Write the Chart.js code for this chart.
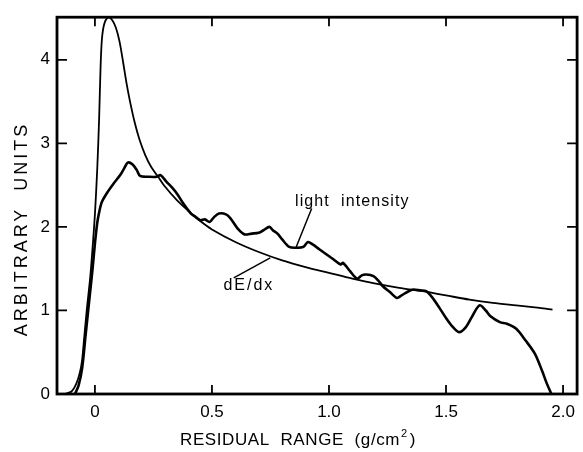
<!DOCTYPE html>
<html>
<head>
<meta charset="utf-8">
<script src="https://cdn.jsdelivr.net/npm/chart.js@4/dist/chart.umd.min.js"></script>
<style>
  html, body { margin: 0; padding: 0; background: #fff; }
</style>
</head>
<body>
<canvas id="grafico" width="583" height="452"></canvas>
<script>
// curva dE/dx (teorica)
const rangoDedx = [-0.13, -0.1, -0.08, -0.065, -0.055, -0.045, -0.035, -0.02, -0.01, 0, 0.01, 0.018, 0.024, 0.03, 0.04, 0.058, 0.075, 0.09, 0.105, 0.12, 0.135, 0.15, 0.17, 0.19, 0.215, 0.24, 0.27, 0.3, 0.35, 0.4, 0.45, 0.5, 0.6, 0.7, 0.8, 0.9, 1.0, 1.1, 1.2, 1.3, 1.4, 1.5, 1.6, 1.7, 1.8, 1.9, 1.955];
const valoresDedx = [0, 0.03, 0.12, 0.25, 0.4, 0.7, 1.0, 1.4, 1.75, 2.15, 2.7, 3.3, 3.9, 4.25, 4.43, 4.51, 4.47, 4.38, 4.22, 3.98, 3.72, 3.5, 3.25, 3.05, 2.86, 2.72, 2.6, 2.48, 2.32, 2.19, 2.07, 1.97, 1.82, 1.7, 1.6, 1.52, 1.45, 1.38, 1.32, 1.27, 1.23, 1.18, 1.13, 1.09, 1.06, 1.03, 1.01];

// intensidad de luz medida
const rangoLuz = [-0.085, -0.07, -0.055, -0.04, -0.025, -0.01, 0, 0.01, 0.02, 0.03, 0.05, 0.08, 0.108, 0.125, 0.14, 0.16, 0.179, 0.193, 0.23, 0.264, 0.28, 0.306, 0.33, 0.35, 0.38, 0.41, 0.43, 0.45, 0.47, 0.49, 0.51, 0.53, 0.56, 0.58, 0.61, 0.64, 0.67, 0.70, 0.72, 0.745, 0.76, 0.78, 0.80, 0.83, 0.86, 0.89, 0.91, 0.93, 0.96, 0.99, 1.02, 1.05, 1.06, 1.09, 1.12, 1.14, 1.16, 1.19, 1.21, 1.23, 1.26, 1.29, 1.31, 1.34, 1.36, 1.39, 1.415, 1.44, 1.47, 1.5, 1.53, 1.557, 1.585, 1.61, 1.643, 1.67, 1.69, 1.73, 1.76, 1.8, 1.84, 1.88, 1.91, 1.93, 1.95];
const valoresLuz = [0, 0.1, 0.3, 0.7, 1.1, 1.5, 1.8, 2.05, 2.2, 2.3, 2.4, 2.52, 2.62, 2.7, 2.77, 2.75, 2.68, 2.61, 2.6, 2.6, 2.62, 2.54, 2.47, 2.4, 2.27, 2.16, 2.12, 2.08, 2.09, 2.06, 2.12, 2.16, 2.15, 2.1, 1.98, 1.91, 1.92, 1.93, 1.96, 2.0, 1.96, 1.92, 1.85, 1.76, 1.75, 1.76, 1.82, 1.79, 1.73, 1.67, 1.61, 1.55, 1.57, 1.47, 1.38, 1.42, 1.43, 1.41, 1.36, 1.29, 1.22, 1.15, 1.18, 1.23, 1.25, 1.24, 1.23, 1.16, 1.04, 0.91, 0.80, 0.74, 0.80, 0.92, 1.06, 1.0, 0.93, 0.86, 0.84, 0.78, 0.64, 0.48, 0.28, 0.13, 0];

const ticksX = [0, 0.5, 1, 1.5, 2];
const etiquetasX = ['0', '0.5', '1.0', '1.5', '2.0'];
const ticksY = [0, 1, 2, 3, 4];

const fuente = "'Liberation Sans', Arial, sans-serif";

const aPuntos = (xs, ys) => xs.map((x, i) => ({ x, y: ys[i] }));

// marco, ticks hacia adentro, titulos y etiquetas
const decoracion = {
  id: 'decoracion',
  afterDraw(chart) {
    const { ctx, chartArea: a, scales: { x, y } } = chart;
    ctx.save();
    ctx.strokeStyle = '#000';
    ctx.fillStyle = '#000';

    ctx.lineWidth = 2.8;
    ctx.strokeRect(a.left, a.top, a.right - a.left, a.bottom - a.top);

    ctx.lineWidth = 1.8;
    ctx.beginPath();
    ticksX.forEach(v => {
      const px = x.getPixelForValue(v);
      ctx.moveTo(px, a.bottom); ctx.lineTo(px, a.bottom - 9);
      ctx.moveTo(px, a.top); ctx.lineTo(px, a.top + 9);
    });
    ticksY.forEach(v => {
      const py = y.getPixelForValue(v);
      ctx.moveTo(a.left, py); ctx.lineTo(a.left + 10, py);
      ctx.moveTo(a.right, py); ctx.lineTo(a.right - 10, py);
    });
    ctx.stroke();

    // titulo eje x
    ctx.font = '17px ' + fuente;
    ctx.letterSpacing = '0.6px';
    ctx.textBaseline = 'alphabetic';
    ctx.textAlign = 'left';
    let px = 180;
    const base = 445;
    const parte1 = 'RESIDUAL  RANGE  (g/cm';
    ctx.fillText(parte1, px, base);
    px += ctx.measureText(parte1).width;
    ctx.font = '11px ' + fuente;
    ctx.fillText('2', px + 1, base - 8);
    px += ctx.measureText('2').width + 3;
    ctx.font = '17px ' + fuente;
    ctx.fillText(')', px, base);

    // titulo eje y
    ctx.save();
    ctx.translate(27, 229);
    ctx.rotate(-Math.PI / 2);
    ctx.textAlign = 'center';
    ctx.font = '18px ' + fuente;
    ctx.letterSpacing = '3px';
    ctx.fillText('ARBITRARY  UNITS', 0, 0);
    ctx.restore();

    // etiquetas de las curvas
    ctx.font = '16px ' + fuente;
    ctx.letterSpacing = '1.1px';
    ctx.fillText('light  intensity', x.getPixelForValue(0.855), y.getPixelForValue(2.25));
    ctx.letterSpacing = '2px';
    ctx.fillText('dE/dx', x.getPixelForValue(0.549), y.getPixelForValue(1.24));

    ctx.lineWidth = 1.5;
    ctx.beginPath();
    ctx.moveTo(x.getPixelForValue(0.926), y.getPixelForValue(2.22));
    ctx.lineTo(x.getPixelForValue(0.86), y.getPixelForValue(1.76));
    ctx.moveTo(x.getPixelForValue(0.593), y.getPixelForValue(1.39));
    ctx.lineTo(x.getPixelForValue(0.749), y.getPixelForValue(1.63));
    ctx.stroke();
    ctx.restore();
  }
};

new Chart(document.getElementById('grafico'), {
  type: 'scatter',
  data: {
    datasets: [
      {
        label: 'dE/dx',
        data: aPuntos(rangoDedx, valoresDedx),
        showLine: true,
        borderColor: '#000',
        borderWidth: 1.8,
        pointRadius: 0,
        tension: 0.3,
        fill: false
      },
      {
        label: 'light intensity',
        data: aPuntos(rangoLuz, valoresLuz),
        showLine: true,
        borderColor: '#000',
        borderWidth: 2.6,
        pointRadius: 0,
        tension: 0.3,
        fill: false
      }
    ]
  },
  options: {
    responsive: false,
    animation: false,
    layout: { padding: { top: 14, right: 5, left: 0, bottom: 0 } },
    plugins: {
      legend: { display: false },
      tooltip: { enabled: false }
    },
    scales: {
      x: {
        type: 'linear',
        min: -0.162,
        max: 2.06,
        grid: { display: false, drawTicks: false },
        border: { display: false },
        afterBuildTicks: s => { s.ticks = ticksX.map(v => ({ value: v })); },
        afterFit: s => { s.height = 58; },
        ticks: {
          color: '#000',
          padding: 8,
          maxRotation: 0,
          font: { family: fuente, size: 17 },
          callback: v => etiquetasX[ticksX.indexOf(v)]
        }
      },
      y: {
        min: 0,
        max: 4.51,
        grid: { display: false, drawTicks: false },
        border: { display: false },
        afterBuildTicks: s => { s.ticks = ticksY.map(v => ({ value: v })); },
        afterFit: s => { s.width = 57; },
        ticks: {
          color: '#000',
          padding: 7,
          font: { family: fuente, size: 17 }
        }
      }
    }
  },
  plugins: [decoracion]
});
</script>
</body>
</html>
